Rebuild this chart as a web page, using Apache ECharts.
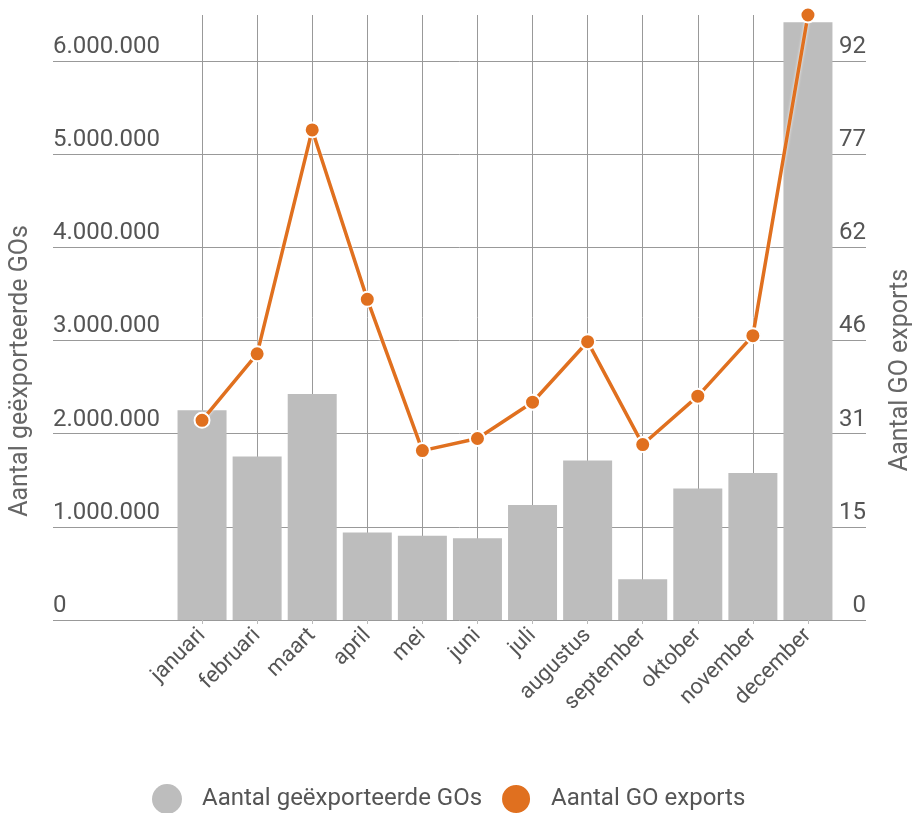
<!DOCTYPE html>
<html>
<head>
<meta charset="utf-8">
<script src="https://cdn.jsdelivr.net/npm/echarts@6/dist/echarts.min.js"></script>
<style>
html,body{margin:0;padding:0;background:#fff;}
#chart{width:913px;height:813px;}
</style>
</head>
<body>
<div id="chart"></div>
<script>
// ---- data ----
const months = ['januari','februari','maart','april','mei','juni','juli','augustus','september','oktober','november','december'];
const exportedGOs = [2250000, 1756000, 2427000, 939000, 903000, 878000, 1233000, 1713000, 437000, 1412000, 1577000, 6416000];
const goExports = [33, 44, 81, 53, 28, 30, 36, 46, 29, 37, 47, 100];
const seriesNames = ['Aantal geëxporteerde GOs', 'Aantal GO exports'];
const leftAxisTitle = 'Aantal geëxporteerde GOs';
const rightAxisTitle = 'Aantal GO exports';
const leftInterval = 1000000;
const rightInterval = 15.4;
const rightMax = 100;
const leftMax = rightMax / rightInterval * leftInterval;

const FONT = 'Roboto';
const TXT = '#555555';
const GRID_TOP = 15, GRID_BOTTOM = 193;

function fmtThousands(v){
  return String(Math.round(v)).replace(/\B(?=(\d{3})+(?!\d))/g, '.');
}

const chart = echarts.init(document.getElementById('chart'), null, {renderer:'canvas'});
const option = {
  backgroundColor: '#ffffff',
  animation: false,
  textStyle: {fontFamily: FONT},
  grid: [
    {left: 53, right: 47, top: GRID_TOP, bottom: GRID_BOTTOM},
    {left: 174.5, right: 77.5, top: GRID_TOP, bottom: GRID_BOTTOM}
  ],
  legend: {
    data: seriesNames,
    left: 152, top: 783,
    padding: 0,
    icon: 'circle',
    itemWidth: 30, itemHeight: 30,
    itemGap: 18,
    textStyle: {fontFamily: FONT, fontSize: 24, color: '#555', padding: [0,0,0,15]}
  },
  xAxis: [
    {type: 'value', gridIndex: 0, show: false, min: 0, max: 1},
    {type: 'category', gridIndex: 1, data: months, boundaryGap: true,
     axisLine: {show: false, onZero: false},
     axisTick: {show: true, interval: 0, alignWithLabel: true, length: 4, lineStyle: {color: '#bbbbbb'}},
     axisLabel: {interval: 0, rotate: 45, fontFamily: FONT, fontSize: 22, color: TXT, margin: 12},
     splitLine: {show: false}},
    {type: 'category', gridIndex: 1, data: months, boundaryGap: true, position: 'top',
     axisLine: {show: false, onZero: false},
     axisTick: {show: true, interval: 0, alignWithLabel: true, inside: true, length: 605, lineStyle: {color: '#999999', width: 1}},
     axisLabel: {show: false},
     splitLine: {show: false}}
  ],
  yAxis: [
    {type: 'value', gridIndex: 0, position: 'left', min: 0, max: leftMax, interval: leftInterval,
     axisLine: {show: false}, axisTick: {show: false},
     axisLabel: {inside: true, margin: 0, align: 'left', verticalAlign: 'bottom', padding: [0,0,2,0],
       showMaxLabel: false, fontFamily: FONT, fontSize: 24, color: TXT,
       formatter: v => fmtThousands(v)},
     splitLine: {show: true, showMaxLine: false, lineStyle: {color: '#999999', width: 1}}},
    {type: 'value', gridIndex: 0, position: 'right', min: 0, max: rightMax, interval: rightInterval,
     axisLine: {show: false}, axisTick: {show: false},
     axisLabel: {inside: true, margin: 0, align: 'right', verticalAlign: 'bottom', padding: [0,0,2,0],
       showMaxLabel: false, fontFamily: FONT, fontSize: 24, color: TXT,
       formatter: v => String(Math.round(v))},
     splitLine: {show: false}},
    {type: 'value', gridIndex: 1, position: 'left', min: 0, max: leftMax, show: false, splitLine: {show: false}},
    {type: 'value', gridIndex: 1, position: 'right', min: 0, max: rightMax, show: false, splitLine: {show: false}}
  ],
  series: [
    {name: seriesNames[0], type: 'bar', xAxisIndex: 1, yAxisIndex: 2, data: exportedGOs,
     barWidth: 49, itemStyle: {color: '#bdbdbd'}, z: 2},
    {name: seriesNames[1], type: 'line', xAxisIndex: 1, yAxisIndex: 3, data: goExports,
     symbol: 'circle', symbolSize: 15,
     lineStyle: {color: '#e0701f', width: 3.5, shadowColor: 'rgba(255,255,255,0.9)', shadowBlur: 3},
     itemStyle: {color: '#e0701f', borderColor: '#ffffff', borderWidth: 2},
     z: 5}
  ],
  graphic: [
    {type: 'text', x: 21, y: 371, rotation: Math.PI/2,
     style: {text: leftAxisTitle, fontFamily: FONT, fontSize: 25, fill: '#666666', textAlign: 'center', textVerticalAlign: 'middle'}},
    {type: 'text', x: 901, y: 370, rotation: Math.PI/2,
     style: {text: rightAxisTitle, fontFamily: FONT, fontSize: 25, fill: '#666666', textAlign: 'center', textVerticalAlign: 'middle'}}
  ]
};
chart.setOption(option);
</script>
</body>
</html>
